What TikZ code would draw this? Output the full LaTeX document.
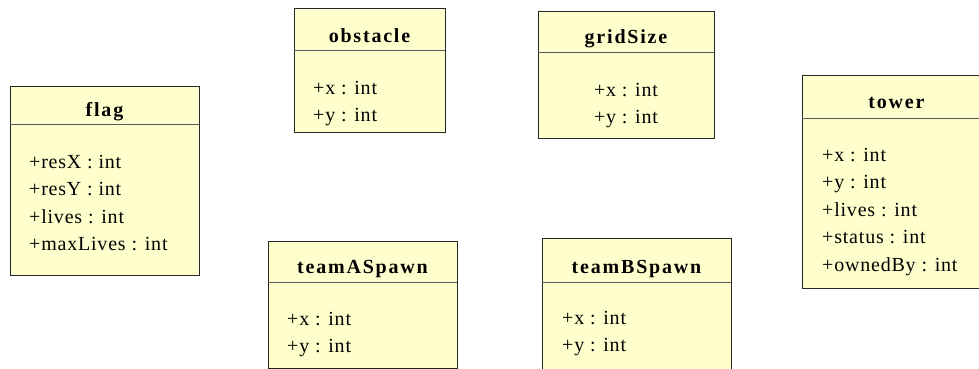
\documentclass[tikz,border=0pt]{standalone}
\usepackage{fontspec}
\setmainfont{Liberation Serif}
\definecolor{classfill}{RGB}{255,255,206}
\tikzset{
  classbox/.style={draw=black!85, line width=1pt, fill=classfill},
  divider/.style={draw=black!65, line width=1pt},
  classname/.style={anchor=base, inner sep=0pt,
    font=\fontsize{20}{24}\selectfont\bfseries\addfontfeature{LetterSpace=9}},
  attr/.style={anchor=base west, inner sep=0pt,
    font=\fontsize{20}{24}\selectfont\addfontfeature{LetterSpace=4}}
}
\begin{document}
\begin{tikzpicture}[x=1pt,y=-1pt]
\useasboundingbox (0,0) rectangle (979,369);

% flag
\draw[classbox] (10,86) rectangle (199,275);
\draw[divider] (10,124) -- (199,124);
\node[classname] (flag) at (104.5,116) {flag};
\foreach \t [count=\i from 0] in {+resX : int,+resY : int,+lives : int,+maxLives : int}
  \node[attr] (flag-\i) at (29,{168+27.5*\i}) {\t};

% obstacle
\draw[classbox] (294,9) rectangle (445,132);
\draw[divider] (294,51) -- (445,51);
\node[classname] (obstacle) at (369.5,42) {obstacle};
\node[attr] (obstacle-x) at (313,94) {+x : int};
\node[attr] (obstacle-y) at (313,121.5) {+y : int};

% gridSize
\draw[classbox] (538,12) rectangle (714,138);
\draw[divider] (538,53) -- (714,53);
\node[classname] (gridSize) at (626,44) {gridSize};
\node[attr,anchor=base] (gridSize-x) at (626,96) {+x : int};
\node[attr,anchor=base] (gridSize-y) at (626,123.5) {+y : int};

% tower
\draw[classbox] (802,75) rectangle (991,288);
\draw[divider] (802,118) -- (991,118);
\node[classname] (tower) at (896.5,108) {tower};
\foreach \t [count=\i from 0] in {+x : int,+y : int,+lives : int,+status : int,+ownedBy : int}
  \node[attr] (tower-\i) at (822,{161+27.5*\i}) {\t};

% teamASpawn
\draw[classbox] (268,241) rectangle (457,368);
\draw[divider] (268,282) -- (457,282);
\node[classname] (teamASpawn) at (362.5,273) {teamASpawn};
\node[attr] (teamASpawn-x) at (287,325) {+x : int};
\node[attr] (teamASpawn-y) at (287,352.5) {+y : int};

% teamBSpawn
\draw[classbox] (542,238) rectangle (731,380);
\draw[divider] (542,282) -- (731,282);
\node[classname] (teamBSpawn) at (636.5,273) {teamBSpawn};
\node[attr] (teamBSpawn-x) at (562,324) {+x : int};
\node[attr] (teamBSpawn-y) at (562,351.5) {+y : int};
\end{tikzpicture}
\end{document}
